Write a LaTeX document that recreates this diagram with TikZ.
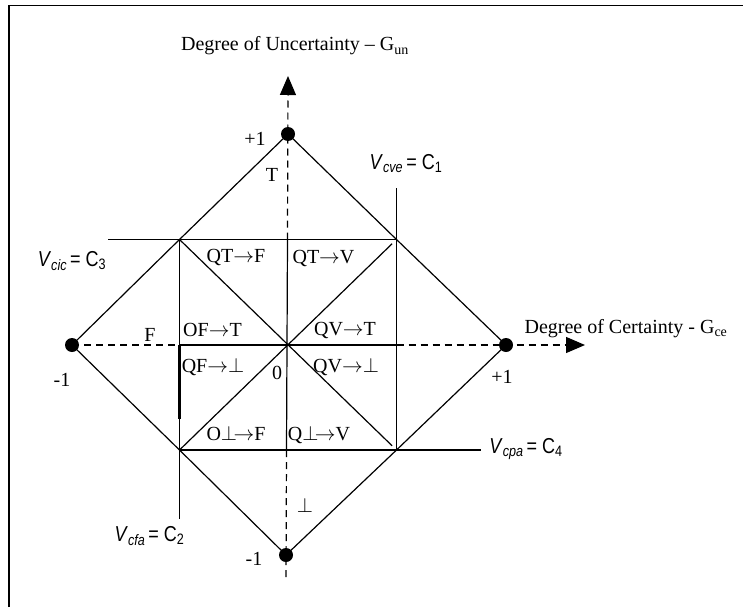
\documentclass[tikz,border=0pt]{standalone}
\usepackage{graphicx}
\usepackage{fontspec}
\setmainfont{Liberation Serif}
\newfontfamily\arialf{Liberation Sans}
\usetikzlibrary{arrows.meta,calc}
\newcommand\vlab[2]{\scalebox{1}[1.2]{\textit{V}\textsubscript{\textit{#1}}\,= C\textsubscript{#2}}}
\tikzset{
  ln/.style={line width=1.2pt},
  ax/.style={line width=1.2pt, dash pattern=on 7pt off 5pt},
  tip/.style={-{Triangle[length=19pt,width=16pt]}},
  dot/.style={circle, fill=black, inner sep=0pt, minimum size=14pt},
  lbl/.style={font=\fontsize{20}{24}\selectfont, inner sep=0pt, anchor=base},
  slbl/.style={font=\fontsize{18}{22}\selectfont\arialf, inner sep=0pt, anchor=base},
}
\begin{document}
\begin{tikzpicture}[x=1pt,y=-1pt]
\useasboundingbox (0,0) rectangle (743,607);
% frame
\draw[line width=1.5pt] (9,607) -- (9,5.5) -- (743,5.5);
% key coordinates
\coordinate (pT) at (288,134);
\coordinate (pL) at (72,345);
\coordinate (pR) at (506,345);
\coordinate (pB) at (286,555);
\coordinate (O) at (287,345);
\coordinate (A) at (179.5,239.5);
\coordinate (Bq) at (396.5,239.5);
\coordinate (C) at (396.5,450);
\coordinate (D) at (179.5,450);
\coordinate (ut) at (287.5,239.5);
\coordinate (ub) at (286.5,450);
\coordinate (lft) at (179.5,345);
\coordinate (rt) at (396.5,345);
\coordinate (uarr) at (288,76);
\coordinate (harr) at (585,345);
\coordinate (bend) at (286,580);
\coordinate (c3l) at (108,239.5);
\coordinate (c1t) at (396.5,188);
\coordinate (c4r) at (481,450);
\coordinate (c2b) at (179.5,519);
\coordinate (thk) at (179.5,419);
% diamond
\draw[ln] (pL) -- (A) -- (pT) -- (Bq) -- (pR) -- (C) -- (pB) -- (D) -- cycle;
% threshold lines
\draw[ln] (c3l) -- (Bq);
\draw[ln] (c1t) -- (C);
\draw[ln] (D) -- (c4r);
\draw[ln] (A) -- (c2b);
\draw[line width=2.4pt] (lft) -- (thk);
% inner axes and diagonals
\draw[ln] (ut) -- (ub);
\draw[ln] (lft) -- (rt);
\draw[ln] (A) -- ($(O)!0.96!(C)$);
\draw[ln] (D) -- ($(O)!0.96!(Bq)$);
% dashed axes
\draw[ax] (pL) -- (lft);
\draw[ax,tip] (rt) -- (harr);
\draw[ax,tip] (ut) -- (uarr);
\draw[ax] (ub) -- (bend);
% dots
\foreach \p in {pT,pL,pR,pB} \node[dot] (d\p) at (\p) {};
% labels
\node[lbl] (tu) at (295,51) {Degree of Uncertainty -- G\textsubscript{un}};
\node[lbl] (tc) at (626,333) {Degree of Certainty - G\textsubscript{ce}};
\node[lbl] (p1t) at (255,145) {+1};
\node[lbl] (m1l) at (62,386) {-1};
\node[lbl] (p1r) at (502,383) {+1};
\node[lbl] (m1b) at (254,565) {-1};
\node[lbl] (lT) at (272,181) {T};
\node[lbl] (lF) at (150,341.5) {F};
\node[lbl] (lbot) at (305,512.5) {$\perp$};
\node[lbl] (l0) at (277,379) {0};
\node[lbl] (qtf) at (236,262.5) {QT$\rightarrow$F};
\node[lbl] (qtv) at (323.5,263) {QT$\rightarrow$V};
\node[lbl] (oft) at (212.5,336.5) {OF$\rightarrow$T};
\node[lbl] (qvt) at (345,335) {QV$\rightarrow$T};
\node[lbl] (qfb) at (213,372.5) {QF$\rightarrow\perp$};
\node[lbl] (qvb) at (346,372) {QV$\rightarrow\perp$};
\node[lbl] (obf) at (236,440) {O$\perp\!\rightarrow$F};
\node[lbl] (qbv) at (319,440) {Q$\perp\!\rightarrow$V};
\node[slbl] (vcve) at (406,169) {\vlab{cve}{1}};
\node[slbl] (vcic) at (72,266.5) {\vlab{cic}{3}};
\node[slbl] (vcpa) at (526,453.5) {\vlab{cpa}{4}};
\node[slbl] (vcfa) at (149.5,541.5) {\vlab{cfa}{2}};
\end{tikzpicture}
\end{document}
